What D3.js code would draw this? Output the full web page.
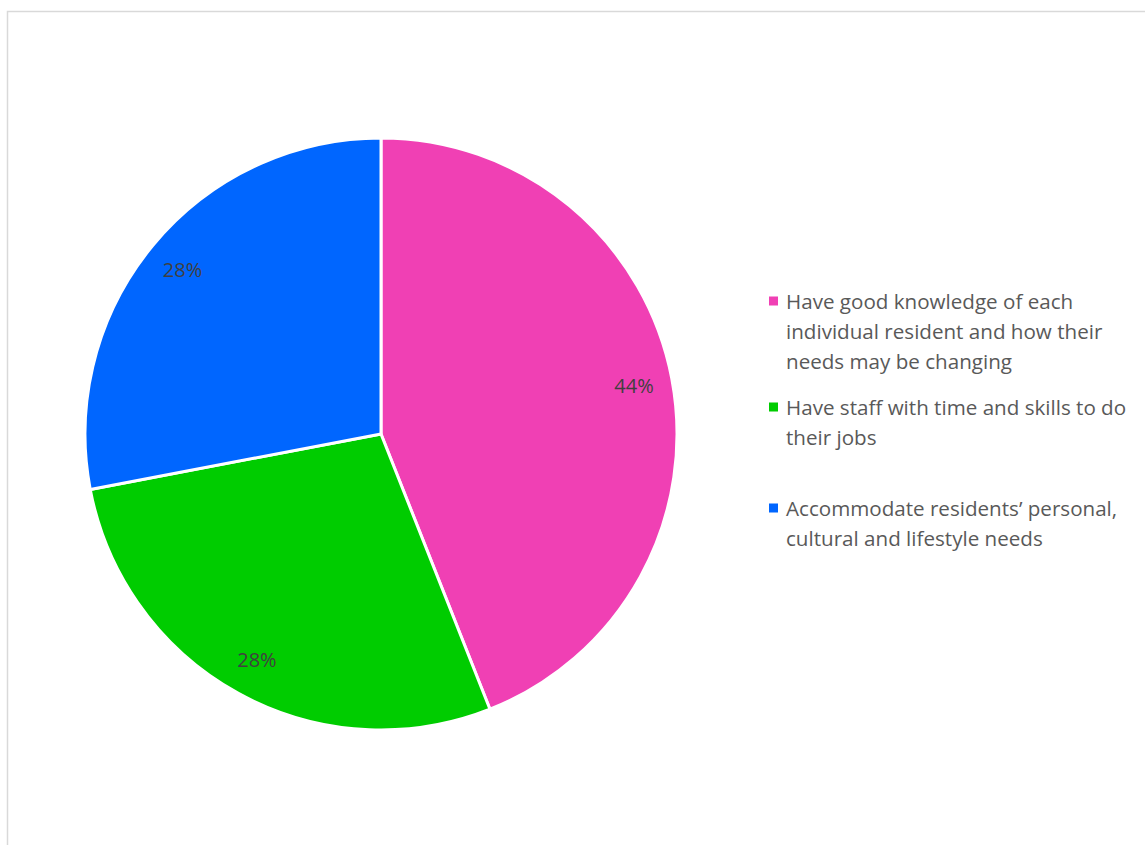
<!DOCTYPE html>
<html><head><meta charset="utf-8">
<script src="https://d3js.org/d3.v7.min.js"></script>
<style>body{margin:0;background:#fff;} svg{display:block;}</style>
</head><body>
<script>
const categories = [
  "Have good knowledge of each individual resident and how their needs may be changing",
  "Have staff with time and skills to do their jobs",
  "Accommodate residents’ personal, cultural and lifestyle needs"
];
const legendLines = [
  ["Have good knowledge of each", "individual resident and how their", "needs may be changing"],
  ["Have staff with time and skills to do", "their jobs"],
  ["Accommodate residents’ personal,", "cultural and lifestyle needs"]
];
const values = [11, 7, 7];
const colors = ["#f040b4", "#00cc00", "#0066ff"];

const W = 1145, H = 845;
const svg = d3.select("body").append("svg").attr("width", W).attr("height", H);
svg.append("rect").attr("x", 7.5).attr("y", 11.5).attr("width", W + 10).attr("height", H + 10)
  .attr("fill", "#fff").attr("stroke", "#d9d9d9").attr("stroke-width", 1.5);

const cx = 381, cy = 434, R = 296;
const total = d3.sum(values);
const pie = d3.pie().sort(null).value(d => d)(values);
const arc = d3.arc().innerRadius(0).outerRadius(R);
const labelArc = d3.arc().innerRadius(R * 0.87).outerRadius(R * 0.87);
const g = svg.append("g").attr("transform", `translate(${cx},${cy})`);
g.selectAll("path").data(pie).join("path")
  .attr("d", arc).attr("fill", (d, i) => colors[i])
  .attr("stroke", "#fff").attr("stroke-width", 3).attr("stroke-linejoin", "round");
g.selectAll("text").data(pie).join("text")
  .attr("transform", d => `translate(${labelArc.centroid(d)})`)
  .attr("text-anchor", "middle").attr("dominant-baseline", "central")
  .attr("font-family", "Open Sans, sans-serif").attr("font-size", 20).attr("fill", "#404040")
  .text(d => Math.round(d.value / total * 100) + "%");

const legendY = [301, 407, 508];
const lg = svg.append("g");
legendLines.forEach((lines, i) => {
  lg.append("rect").attr("x", 769).attr("y", legendY[i] - 4.5).attr("width", 9).attr("height", 9).attr("fill", colors[i]);
  const t = lg.append("text").attr("font-family", "Open Sans, sans-serif").attr("font-size", 20.6)
    .attr("fill", "#595959");
  lines.forEach((ln, j) => {
    t.append("tspan").attr("x", 786).attr("y", legendY[i] + j * 30).attr("dominant-baseline", "central").text(ln);
  });
});
</script>
</body></html>
